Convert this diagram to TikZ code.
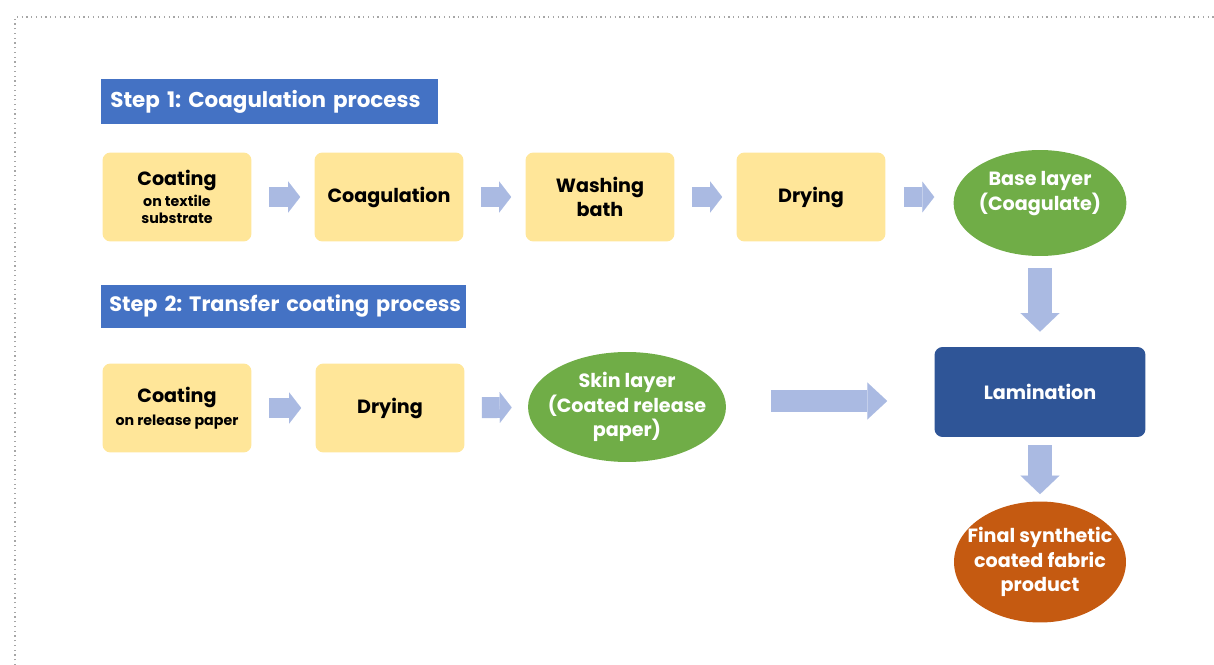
\documentclass[tikz,border=0pt]{standalone}
\usepackage{fontspec}
\setmainfont{Poppins}
\usepackage{tikz}
\usetikzlibrary{shapes.geometric}
\usetikzlibrary{arrows.meta}
\usetikzlibrary{calc}

\definecolor{headblue}{RGB}{68,114,196}
\definecolor{boxyellow}{RGB}{255,230,153}
\definecolor{layergreen}{RGB}{112,173,71}
\definecolor{lamblue}{RGB}{47,85,151}
\definecolor{prodorange}{RGB}{197,90,17}
\definecolor{flowblue}{RGB}{170,186,226}

\begin{document}
\frenchspacing
\begin{tikzpicture}[x=0.02cm,y=-0.02cm,
	header/.style={rectangle,fill=headblue,text=white,anchor=west,
		font=\fontsize{12.2}{15}\selectfont\bfseries,inner xsep=0.18cm,align=left},
	stepbox/.style={rectangle,rounded corners=0.16cm,fill=boxyellow,
		minimum width=2.98cm,minimum height=1.78cm,align=center,
		font=\fontsize{10.9}{13}\selectfont\bfseries},
	layer/.style={ellipse,fill=layergreen,text=white,inner ysep=0pt,align=center,
		font=\fontsize{10.9}{14}\selectfont\bfseries},
	flow/.style={draw=flowblue,line width=11.9pt,
		-{Triangle[width=17.6pt,length=6.8pt,line width=0.01pt]},
		shorten <=0.34cm,shorten >=0.28cm},
	down/.style={draw=flowblue,line width=13.2pt,
		-{Triangle[width=22pt,length=10.5pt,line width=0.01pt]}}
	]
	\useasboundingbox (0,0) rectangle (1214,665);
	\draw[black!35,dotted,line width=0.7pt] (15,665) -- (15,17) -- (1214,17);

	\node[header,text width=6.38cm,minimum height=0.9cm] (step1) at (101,101.5) {\mbox{Step 1: Coagulation process}};
	\node[header,font=\fontsize{11.85}{15}\selectfont\bfseries,inner xsep=0.16cm,text width=6.98cm,minimum height=0.86cm] (step2) at (101,306.5) {\mbox{Step 2: Transfer coating process}};

	\node[stepbox] (coat1) at (177,197) {Coating\\[-1pt]{\fontsize{8.1}{9.5}\selectfont on textile}\\[-3pt]{\fontsize{8.1}{9.5}\selectfont substrate}};
	\node[stepbox] (coag) at (389,197) {Coagulation};
	\node[stepbox] (wash) at (600,197) {Washing\\[1pt]bath};
	\node[stepbox] (dry1) at (811,197) {Drying};
	\node[layer,inner xsep=0pt,minimum width=3.44cm,minimum height=2.12cm] (base) at (1040,203) {Base layer\\(Coagulate)\\\mbox{}};

	\node[stepbox] (coat2) at (177,408) {Coating\\{\fontsize{8.1}{9.5}\selectfont on release paper}};
	\node[stepbox] (dry2) at (390,408) {Drying};
	\node[layer,inner xsep=-0.3cm,minimum width=3.96cm,minimum height=2.2cm] (skin) at (627,407) {Skin layer\\(Coated release\\paper)};

	\node[rectangle,rounded corners=0.16cm,fill=lamblue,text=white,minimum width=4.22cm,minimum height=1.8cm,
		font=\fontsize{10.9}{13}\selectfont\bfseries] (lam) at (1040,392) {Lamination};
	\node[layer,fill=prodorange,inner xsep=-0.3cm,minimum width=3.44cm,minimum height=2.42cm] (final) at (1040,562) {Final synthetic\\coated fabric\\product};

	\draw[flow] (coat1) -- (coag);
	\draw[flow] (coag) -- (wash);
	\draw[flow] (wash) -- (dry1);
	\draw[flow,shorten <=0.36cm,shorten >=0.38cm] (dry1) -- (dry1 -| base.west);
	\draw[flow] (coat2) -- (dry2);
	\draw[flow,shorten >=0.32cm] (dry2) -- (skin);
	\draw[flow,line width=12.5pt,-{Triangle[width=21pt,length=11.3pt,line width=0.01pt]},
		shorten <=0.9cm,shorten >=0.94cm] ($(skin.east)+(0,-6)$) -- ($(skin.east -| lam.west)+(0,-6)$);
	\draw[down,shorten <=0.24cm,shorten >=0.3cm] (base) -- (lam);
	\draw[down,shorten <=0.16cm,shorten >=0.14cm] (lam) -- (final);
\end{tikzpicture}
\end{document}
